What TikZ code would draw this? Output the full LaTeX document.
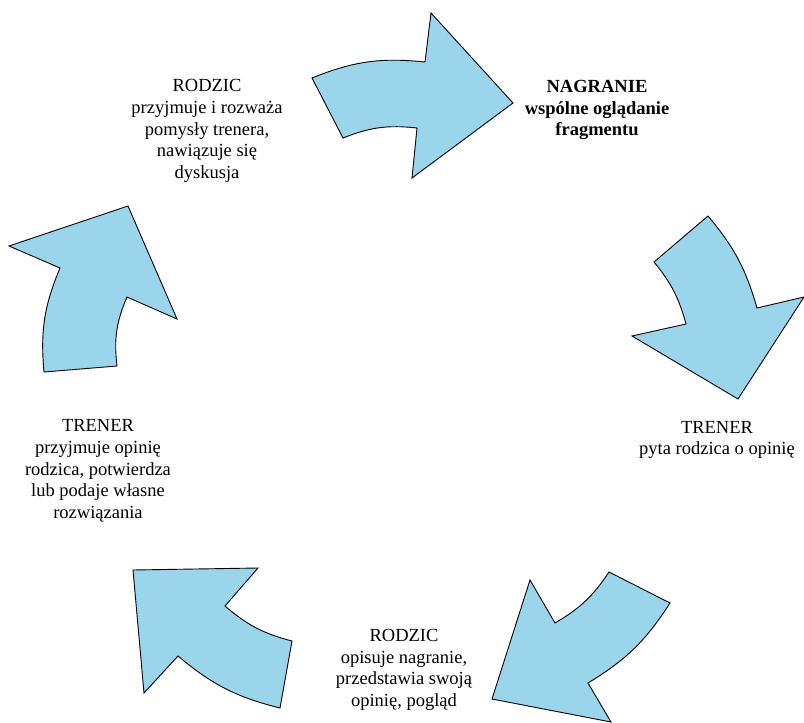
\documentclass[tikz,border=0pt]{standalone}
\usepackage{fontspec}
\setmainfont{Liberation Serif}
\definecolor{arrowblue}{RGB}{155,213,236}

\begin{document}
\begin{tikzpicture}[x=1pt, y=-1pt,
   cyclearrow/.style={draw=black, fill=arrowblue, line width=0.9pt, line join=miter},
   phase/.style={align=center, font=\fontsize{18.5}{21.7}\selectfont},
   headphase/.style={align=center, font=\fontsize{18.5}{21.7}\selectfont\bfseries}]
   \useasboundingbox (0,0) rectangle (804,723);
   \node (nagranie) at (597,110) [headphase] {NAGRANIE\\wspólne oglądanie\\fragmentu};
   \node (trenerP) at (717,440) [phase] {TRENER\\pyta rodzica o opinię};
   \node (rodzicO) at (404,670) [phase] {RODZIC\\opisuje nagranie,\\przedstawia swoją\\opinię, pogląd};
   \node (trenerO) at (98,471) [phase] {TRENER\\przyjmuje opinię\\rodzica, potwierdza\\lub podaje własne\\rozwiązania};
   \node (rodzicR) at (207,131) [phase] {RODZIC\\przyjmuje i rozważa\\pomysły trenera,\\nawiązuje się\\dyskusja};
   \draw[cyclearrow] (312,78) to[bend left=14] (425,62) -- (431,13) -- (513,103) -- (412,178) -- (417,128) to[bend right=14] (343,138) -- cycle;
   \draw[cyclearrow] (708,216) to[bend left=12] (757,308) -- (804,297) -- (738,399) -- (632,336) -- (686,324) to[bend right=12] (654,262) -- cycle;
   \draw[cyclearrow] (670,603) to[bend left=13] (588,683) -- (611,722) -- (492,699) -- (530,580) -- (555,623) to[bend right=13] (609,572) -- cycle;
   \draw[cyclearrow] (280,708) to[bend left=13] (178,656) -- (144,693) -- (133,570) -- (258,568) -- (225,606) to[bend right=13] (292,641) -- cycle;
   \draw[cyclearrow] (44,372) to[bend left=14] (60,268) -- (9,246) -- (128,206) -- (177,319) -- (127,297) to[bend right=15] (117,366) -- cycle;
\end{tikzpicture}
\end{document}
